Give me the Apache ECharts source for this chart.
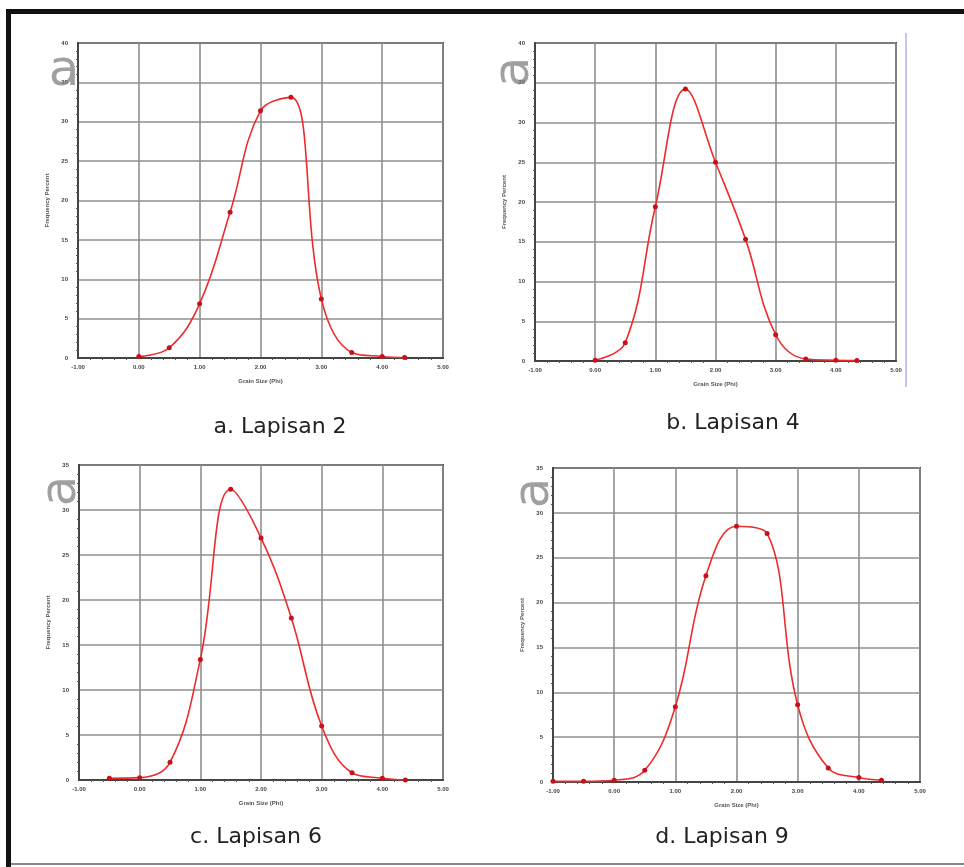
<!DOCTYPE html>
<html>
<head>
<meta charset="utf-8">
<script src="https://cdn.jsdelivr.net/npm/echarts@6/dist/echarts.min.js"></script>
<style>
  html, body { margin: 0; padding: 0; background: #fff; }
  #chart { width: 964px; height: 867px; }
</style>
</head>
<body>
<div id="chart"></div>
<script>
// grain size (phi) vs frequency percent, one pair per layer
const phiA = [0, 0.5, 1, 1.5, 2, 2.5, 3, 3.5, 4, 4.37];
const freqA = [0.2, 1.3, 6.9, 18.5, 31.4, 33.1, 7.5, 0.7, 0.2, 0.05];

const phiB = [0, 0.5, 1, 1.5, 2, 2.5, 3, 3.5, 4, 4.35];
const freqB = [0.1, 2.3, 19.4, 34.2, 25.0, 15.3, 3.3, 0.25, 0.1, 0.05];

const phiC = [-0.5, 0, 0.5, 1, 1.5, 2, 2.5, 3, 3.5, 4, 4.38];
const freqC = [0.2, 0.26, 1.96, 13.4, 32.3, 26.9, 18.0, 6.0, 0.8, 0.2, 0.0];

const phiD = [-1, -0.5, 0, 0.5, 1, 1.5, 2, 2.5, 3, 3.5, 4, 4.37];
const freqD = [0.07, 0.07, 0.2, 1.3, 8.4, 23.0, 28.5, 27.7, 8.6, 1.56, 0.5, 0.2];

const captions = ['a. Lapisan 2', 'b. Lapisan 4', 'c. Lapisan 6', 'd. Lapisan 9'];
const yMaxes = [40, 40, 35, 35];
const xTickLabels = ['-1.00', '0.00', '1.00', '2.00', '3.00', '4.00', '5.00'];

const chart = echarts.init(document.getElementById('chart'));

// plot boxes
const boxes = [
  { left: 78, top: 43, width: 365, height: 315 },
  { left: 535, top: 43, width: 361, height: 318 },
  { left: 79, top: 465, width: 364, height: 315 },
  { left: 553, top: 468, width: 367, height: 314 }
];
const seriesData = [
  [phiA, freqA], [phiB, freqB], [phiC, freqC], [phiD, freqD]
];

const labelFont = { fontSize: 6, fontWeight: 'bold', color: '#444', fontFamily: 'Liberation Sans' };

const grid = [], xAxis = [], yAxis = [], series = [];
boxes.forEach((b, i) => {
  grid.push({ left: b.left, top: b.top, width: b.width, height: b.height,
    show: true, borderColor: '#444', borderWidth: 2, backgroundColor: '#fff' });
  xAxis.push({
    gridIndex: i, type: 'value', min: -1, max: 5, interval: 1,
    name: 'Grain Size (Phi)', nameLocation: 'middle', nameGap: 20,
    nameTextStyle: { fontSize: 6, fontWeight: 'bold', color: '#555', fontFamily: 'Liberation Sans' },
    axisLine: { show: true, onZero: false, lineStyle: { color: '#444', width: 2 } },
    axisTick: { show: false },
    minorTick: { show: true, splitNumber: 5, length: 2, lineStyle: { color: '#555' } },
    axisLabel: Object.assign({ margin: 6, formatter: v => xTickLabels[Math.round(v) + 1] }, labelFont),
    splitLine: { show: true, lineStyle: { color: '#8f8f8f', width: 1.6 } }
  });
  yAxis.push({
    gridIndex: i, type: 'value', min: 0, max: yMaxes[i], interval: 5,
    name: 'Frequency Percent', nameLocation: 'middle', nameGap: 28, nameRotate: 90,
    nameTextStyle: { fontSize: 6, fontWeight: 'bold', color: '#555', fontFamily: 'Liberation Sans' },
    axisLine: { show: true, onZero: false, lineStyle: { color: '#444', width: 2 } },
    axisTick: { show: false },
    minorTick: { show: true, splitNumber: 5, length: 2, lineStyle: { color: '#555' } },
    axisLabel: Object.assign({ margin: 10 }, labelFont),
    splitLine: { show: true, lineStyle: { color: '#8f8f8f', width: 1.6 } }
  });
  const [xs, ys] = seriesData[i];
  series.push({
    type: 'line', xAxisIndex: i, yAxisIndex: i,
    data: xs.map((x, k) => [x, ys[k]]),
    smooth: 0.4,
    symbol: 'circle', symbolSize: 5,
    itemStyle: { color: '#c8101a' },
    lineStyle: { color: '#ee2a2a', width: 1.6 },
    z: 5
  });
});

// captions under each panel
const captionPos = [[280, 427], [733, 423], [256, 837], [722, 837]];

// watermark glyphs and page frame
const marks = [
  { x: 64, y: 72, rot: 0 },
  { x: 515, y: 72, rot: Math.PI / 2 },
  { x: 62, y: 491, rot: Math.PI / 2 },
  { x: 535, y: 493, rot: Math.PI / 2 }
];
const graphic = [
  { type: 'rect', shape: { x: 6, y: 9, width: 958, height: 5 }, style: { fill: '#111' }, z: 10 },
  { type: 'rect', shape: { x: 6, y: 9, width: 5, height: 858 }, style: { fill: '#111' }, z: 10 },
  { type: 'rect', shape: { x: 11, y: 863, width: 953, height: 2 }, style: { fill: '#888' }, z: 10 },
  { type: 'line', shape: { x1: 906, y1: 33, x2: 906, y2: 387 }, style: { stroke: '#8a8af0', lineWidth: 1 }, z: 10 }
];
marks.forEach(m => graphic.push({
  type: 'text', x: m.x, y: m.y, rotation: m.rot, z: 20,
  style: { text: 'a', fontSize: 50, fill: 'rgba(120,120,120,0.7)', fontFamily: 'DejaVu Sans',
    align: 'center', verticalAlign: 'middle' }
}));
captions.forEach((t, i) => graphic.push({
  type: 'text', x: captionPos[i][0], y: captionPos[i][1], z: 20,
  style: { text: t, fontSize: 22, fill: '#222', fontFamily: 'DejaVu Sans',
    align: 'center', verticalAlign: 'middle' }
}));

chart.setOption({
  animation: false,
  backgroundColor: '#fff',
  grid: grid,
  xAxis: xAxis,
  yAxis: yAxis,
  series: series,
  graphic: graphic
});
</script>
</body>
</html>
